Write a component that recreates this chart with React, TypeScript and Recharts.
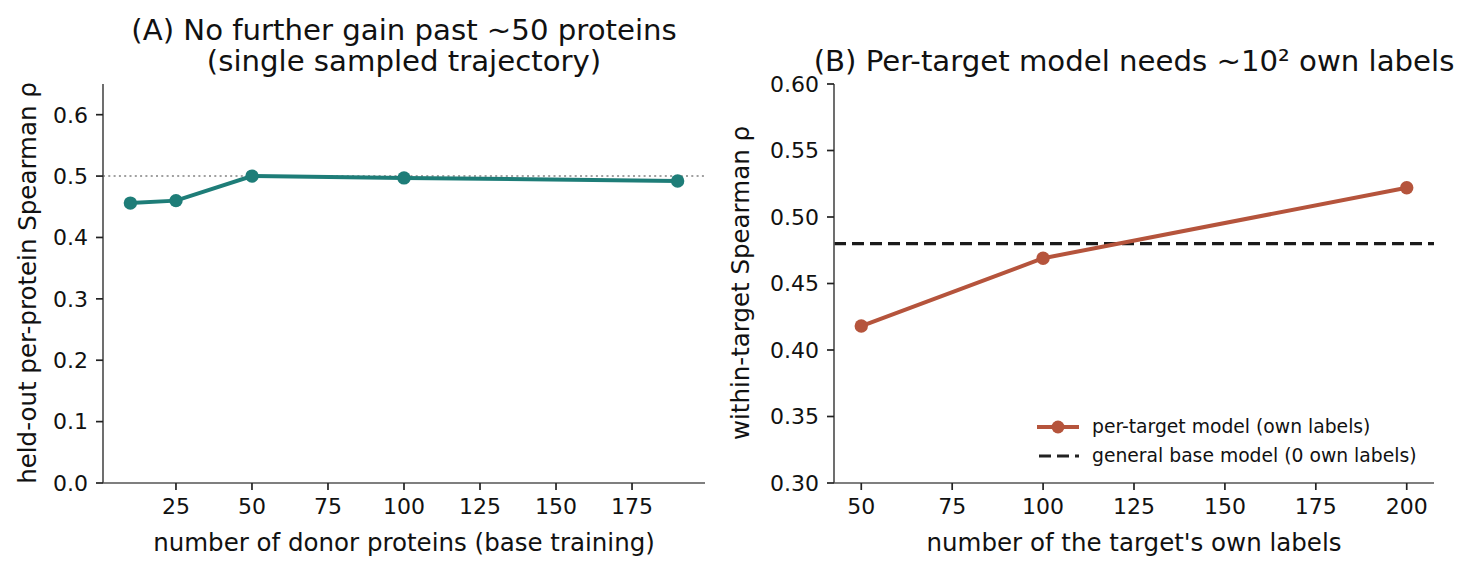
import { LineChart, Line, XAxis, YAxis, ReferenceLine, Legend } from "recharts";

// panel A: held-out rho vs number of donor proteins
const donorCounts = [10, 25, 50, 100, 190];
const heldOutRho = [0.456, 0.46, 0.5, 0.497, 0.492];
const donorTicks = [25, 50, 75, 100, 125, 150, 175];
const rhoTicksA = [0, 0.1, 0.2, 0.3, 0.4, 0.5, 0.6];
const plateauRho = 0.5;

// panel B: per-target model vs own labels
const ownLabelCounts = [50, 100, 200];
const perTargetRho = [0.418, 0.469, 0.522];
const ownLabelTicks = [50, 75, 100, 125, 150, 175, 200];
const rhoTicksB = [0.3, 0.35, 0.4, 0.45, 0.5, 0.55, 0.6];
const baseModelRho = 0.48;
const legendNames = ["per-target model (own labels)", "general base model (0 own labels)"];

const FONT = "'DejaVu Sans', sans-serif";
const TEAL = "#1e7d78";
const RUST = "#b5543c";
const AXIS = "#555";

const dataA = donorCounts.map((n, i) => ({ n, rho: heldOutRho[i] }));
const dataB = ownLabelCounts.map((n, i) => ({ n, rho: perTargetRho[i] }));

const tickStyle = { fill: "#111", fontSize: 22, fontFamily: FONT };
const axisProps = {
  axisLine: { stroke: AXIS, strokeWidth: 1.7 },
  tickLine: { stroke: "#222", strokeWidth: 1.7 },
  tickSize: 7,
  tickMargin: 8,
  tick: tickStyle,
};

function BLegend() {
  return (
    <div style={{ fontFamily: FONT, fontSize: 18.75, color: "#111", lineHeight: "29px" }}>
      <div style={{ display: "flex", alignItems: "center" }}>
        <svg width={44} height={20} style={{ marginRight: 12 }}>
          <line x1={1} y1={10} x2={43} y2={10} stroke={RUST} strokeWidth={4} />
          <circle cx={22} cy={10} r={6.5} fill={RUST} />
        </svg>
        {legendNames[0]}
      </div>
      <div style={{ display: "flex", alignItems: "center" }}>
        <svg width={44} height={20} style={{ marginRight: 12 }}>
          <line x1={3} y1={10} x2={43} y2={10} stroke="#222" strokeWidth={3.2} strokeDasharray="12 6" />
        </svg>
        {legendNames[1]}
      </div>
    </div>
  );
}

const label = (text: string, x: number, y: number, size: number, rotate = false) => (
  <div
    style={{
      position: "absolute",
      left: x,
      top: y,
      transform: `translate(-50%, -50%)${rotate ? " rotate(-90deg)" : ""}`,
      fontFamily: FONT,
      fontSize: size,
      color: "#111",
      whiteSpace: "nowrap",
      textAlign: "center",
      lineHeight: 1.1,
    }}
  >
    {text}
  </div>
);

export default function App() {
  return (
    <div style={{ position: "absolute", left: 0, top: 0, width: 1471, height: 571, background: "#fff" }}>
      <div style={{ position: "absolute", left: 0, top: 0 }}>
        <LineChart width={720} height={571} data={dataA} margin={{ top: 84, right: 15, bottom: 0, left: 0 }}>
          <XAxis dataKey="n" type="number" domain={[1, 199]} ticks={donorTicks} height={88} {...axisProps} />
          <YAxis
            type="number"
            domain={[0, 0.65]}
            ticks={rhoTicksA}
            width={103}
            tickFormatter={(v: number) => v.toFixed(1)}
            {...axisProps}
          />
          <ReferenceLine y={plateauRho} stroke="#a0a0a0" strokeWidth={2} strokeDasharray="2 3.3" />
          <Line
            dataKey="rho"
            stroke={TEAL}
            strokeWidth={4}
            dot={{ r: 6.7, fill: TEAL, stroke: TEAL, strokeWidth: 0 }}
            isAnimationActive={false}
          />
        </LineChart>
      </div>
      <div style={{ position: "absolute", left: 720, top: 0 }}>
        <LineChart width={751} height={571} data={dataB} margin={{ top: 84, right: 37, bottom: 0, left: 0 }}>
          <XAxis dataKey="n" type="number" domain={[42.5, 207.5]} ticks={ownLabelTicks} height={88} {...axisProps} />
          <YAxis
            type="number"
            domain={[0.3, 0.6]}
            ticks={rhoTicksB}
            width={114}
            tickFormatter={(v: number) => v.toFixed(2)}
            {...axisProps}
          />
          <ReferenceLine y={baseModelRho} stroke="#1a1a1a" strokeWidth={3.2} strokeDasharray="12 6" />
          <Line
            dataKey="rho"
            stroke={RUST}
            strokeWidth={4}
            dot={{ r: 6.7, fill: RUST, stroke: RUST, strokeWidth: 0 }}
            isAnimationActive={false}
          />
          <Legend
            layout="horizontal"
            verticalAlign="middle"
            content={() => <BLegend />}
            wrapperStyle={{ position: "absolute", left: 316, top: 412, width: "auto" }}
          />
        </LineChart>
      </div>
      {label("(A) No further gain past ~50 proteins", 404, 30, 29.2)}
      {label("(single sampled trajectory)", 404, 61, 29.2)}
      {label("(B) Per-target model needs ~10² own labels", 1134, 61, 29.2)}
      {label("held-out per-protein Spearman ρ", 28, 283, 24.5, true)}
      {label("within-target Spearman ρ", 741, 283, 24.5, true)}
      {label("number of donor proteins (base training)", 404, 543, 24.5)}
      {label("number of the target's own labels", 1134, 543, 24.5)}
    </div>
  );
}
